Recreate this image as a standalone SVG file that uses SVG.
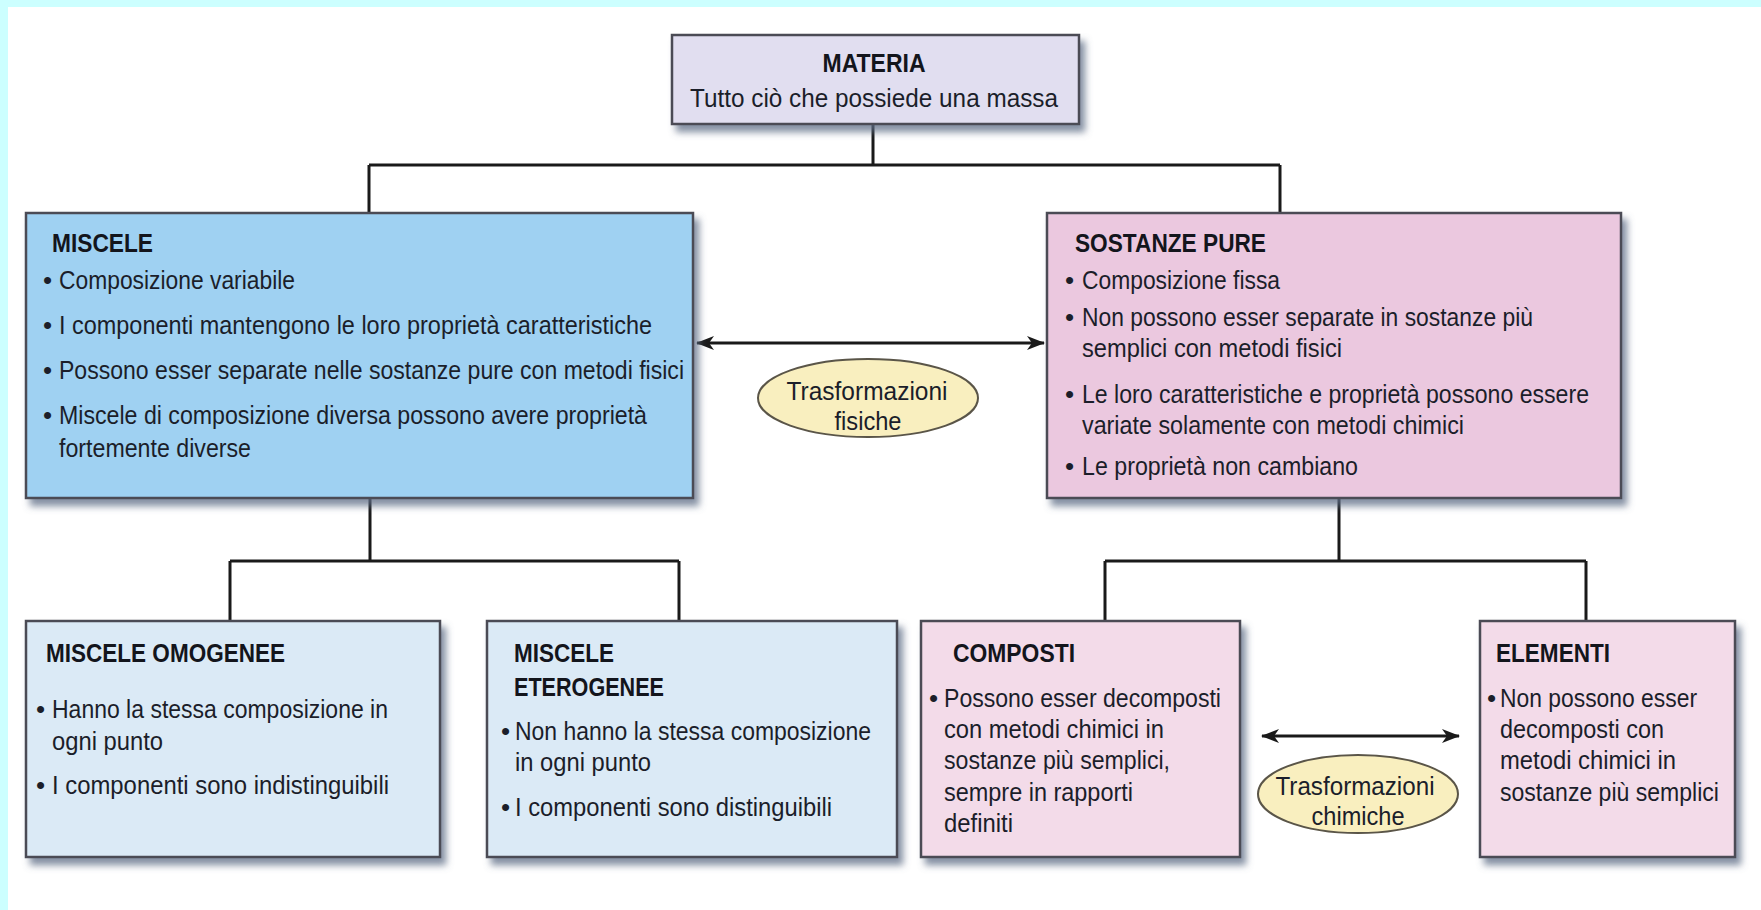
<svg xmlns="http://www.w3.org/2000/svg" width="1761" height="910" viewBox="0 0 1761 910">
<defs>
<style>
.t{font-family:"Liberation Sans",Arial,sans-serif;font-size:26px;fill:#1b1e2a}
.h{font-family:"Liberation Sans",Arial,sans-serif;font-size:26px;font-weight:bold;fill:#13151c}
.m{text-anchor:middle}
.box{stroke:#4b4b55;stroke-width:2.5}
.ln{stroke:#1a1a1a;stroke-width:3;fill:none}
.blue{fill:#9fd1f2}
.pink{fill:#ebc8df}
.lblue{fill:#dbeaf6}
.lpink{fill:#f3dbe9}
.lav{fill:#e1def0}
.ell{fill:#f9efbf;stroke:#5a5548;stroke-width:2}
</style>
<filter id="sh" x="-10%" y="-10%" width="130%" height="140%">
<feGaussianBlur in="SourceAlpha" stdDeviation="3.5"/>
<feOffset dx="5" dy="7" result="o"/>
<feFlood flood-color="#5d6c85" flood-opacity="0.75"/>
<feComposite in2="o" operator="in"/>
<feMerge><feMergeNode/><feMergeNode in="SourceGraphic"/></feMerge>
</filter>
<marker id="ah" viewBox="0 0 18 16" refX="17" refY="8" markerWidth="18" markerHeight="16" markerUnits="userSpaceOnUse" orient="auto-start-reverse">
<path d="M0,1 L18,8 L0,15 L5,8 Z" fill="#1a1a1a"/>
</marker>
</defs>
<rect x="0" y="0" width="1761" height="910" fill="#ffffff"/>
<rect x="0" y="0" width="1761" height="7" fill="#ccffff"/>
<rect x="0" y="0" width="8" height="910" fill="#ccffff"/>

<g id="connectors">
<path class="ln" d="M873,124 V165 M369,165 H1280 M369,165 V213 M1280,165 V213"/>
<path class="ln" d="M370,498 V561 M230,561 H679 M230,561 V621 M679,561 V621"/>
<path class="ln" d="M1339,498 V561 M1105,561 H1586 M1105,561 V621 M1586,561 V621"/>
<line class="ln" x1="697" y1="343" x2="1044" y2="343" marker-start="url(#ah)" marker-end="url(#ah)"/>
<line class="ln" x1="1262" y1="736" x2="1459" y2="736" marker-start="url(#ah)" marker-end="url(#ah)"/>
</g>

<g id="materia">
<rect class="box lav" x="672" y="35" width="407" height="89" filter="url(#sh)"/>
<text class="h m" x="874" y="72" font-size="27" textLength="103" lengthAdjust="spacingAndGlyphs">MATERIA</text>
<text class="t m" x="874" y="107" font-size="27" textLength="368" lengthAdjust="spacingAndGlyphs">Tutto ciò che possiede una massa</text>
</g>

<g id="miscele">
<rect class="box blue" x="26" y="213" width="667" height="285" filter="url(#sh)"/>
<text class="h" x="52" y="252" textLength="101" lengthAdjust="spacingAndGlyphs">MISCELE</text>
<text class="t" x="43" y="289">•</text>
<text class="t" x="59" y="289" textLength="236" lengthAdjust="spacingAndGlyphs">Composizione variabile</text>
<text class="t" x="43" y="334">•</text>
<text class="t" x="59" y="334" textLength="593" lengthAdjust="spacingAndGlyphs">I componenti mantengono le loro proprietà caratteristiche</text>
<text class="t" x="43" y="379">•</text>
<text class="t" x="59" y="379" textLength="625" lengthAdjust="spacingAndGlyphs">Possono esser separate nelle sostanze pure con metodi fisici</text>
<text class="t" x="43" y="424">•</text>
<text class="t" x="59" y="424" textLength="588" lengthAdjust="spacingAndGlyphs">Miscele di composizione diversa possono avere proprietà</text>
<text class="t" x="59" y="457" textLength="192" lengthAdjust="spacingAndGlyphs">fortemente diverse</text>
</g>

<g id="sostanze-pure">
<rect class="box pink" x="1047" y="213" width="574" height="285" filter="url(#sh)"/>
<text class="h" x="1075" y="252" textLength="191" lengthAdjust="spacingAndGlyphs">SOSTANZE PURE</text>
<text class="t" x="1065" y="289">•</text>
<text class="t" x="1082" y="289" textLength="198" lengthAdjust="spacingAndGlyphs">Composizione fissa</text>
<text class="t" x="1065" y="326">•</text>
<text class="t" x="1082" y="326" textLength="451" lengthAdjust="spacingAndGlyphs">Non possono esser separate in sostanze più</text>
<text class="t" x="1082" y="357" textLength="260" lengthAdjust="spacingAndGlyphs">semplici con metodi fisici</text>
<text class="t" x="1065" y="403">•</text>
<text class="t" x="1082" y="403" textLength="507" lengthAdjust="spacingAndGlyphs">Le loro caratteristiche e proprietà possono essere</text>
<text class="t" x="1082" y="434" textLength="382" lengthAdjust="spacingAndGlyphs">variate solamente con metodi chimici</text>
<text class="t" x="1065" y="475">•</text>
<text class="t" x="1082" y="475" textLength="276" lengthAdjust="spacingAndGlyphs">Le proprietà non cambiano</text>
</g>

<g id="trasformazioni-fisiche">
<ellipse class="ell" cx="868" cy="398" rx="110" ry="39"/>
<text class="t m" x="867" y="400" textLength="161" lengthAdjust="spacingAndGlyphs">Trasformazioni</text>
<text class="t m" x="868" y="430" textLength="67" lengthAdjust="spacingAndGlyphs">fisiche</text>
</g>

<g id="miscele-omogenee">
<rect class="box lblue" x="26" y="621" width="414" height="236" filter="url(#sh)"/>
<text class="h" x="46" y="662" textLength="239" lengthAdjust="spacingAndGlyphs">MISCELE OMOGENEE</text>
<text class="t" x="36" y="718">•</text>
<text class="t" x="52" y="718" textLength="336" lengthAdjust="spacingAndGlyphs">Hanno la stessa composizione in</text>
<text class="t" x="52" y="750" textLength="111" lengthAdjust="spacingAndGlyphs">ogni punto</text>
<text class="t" x="36" y="794">•</text>
<text class="t" x="52" y="794" textLength="337" lengthAdjust="spacingAndGlyphs">I componenti sono indistinguibili</text>
</g>

<g id="miscele-eterogenee">
<rect class="box lblue" x="487" y="621" width="410" height="236" filter="url(#sh)"/>
<text class="h" x="514" y="662" textLength="100" lengthAdjust="spacingAndGlyphs">MISCELE</text>
<text class="h" x="514" y="696" textLength="150" lengthAdjust="spacingAndGlyphs">ETEROGENEE</text>
<text class="t" x="501" y="740">•</text>
<text class="t" x="515" y="740" textLength="356" lengthAdjust="spacingAndGlyphs">Non hanno la stessa composizione</text>
<text class="t" x="515" y="771" textLength="136" lengthAdjust="spacingAndGlyphs">in ogni punto</text>
<text class="t" x="501" y="816">•</text>
<text class="t" x="515" y="816" textLength="317" lengthAdjust="spacingAndGlyphs">I componenti sono distinguibili</text>
</g>

<g id="composti">
<rect class="box lpink" x="921" y="621" width="319" height="236" filter="url(#sh)"/>
<text class="h" x="953" y="662" textLength="122" lengthAdjust="spacingAndGlyphs">COMPOSTI</text>
<text class="t" x="929" y="707">•</text>
<text class="t" x="944" y="707" textLength="277" lengthAdjust="spacingAndGlyphs">Possono esser decomposti</text>
<text class="t" x="944" y="738" textLength="220" lengthAdjust="spacingAndGlyphs">con metodi chimici in</text>
<text class="t" x="944" y="769" textLength="226" lengthAdjust="spacingAndGlyphs">sostanze più semplici,</text>
<text class="t" x="944" y="801" textLength="189" lengthAdjust="spacingAndGlyphs">sempre in rapporti</text>
<text class="t" x="944" y="832" textLength="69" lengthAdjust="spacingAndGlyphs">definiti</text>
</g>

<g id="trasformazioni-chimiche">
<ellipse class="ell" cx="1358" cy="794" rx="100" ry="39"/>
<text class="t m" x="1355" y="795" textLength="159" lengthAdjust="spacingAndGlyphs">Trasformazioni</text>
<text class="t m" x="1358" y="825" textLength="93" lengthAdjust="spacingAndGlyphs">chimiche</text>
</g>

<g id="elementi">
<rect class="box lpink" x="1480" y="621" width="255" height="236" filter="url(#sh)"/>
<text class="h" x="1496" y="662" textLength="114" lengthAdjust="spacingAndGlyphs">ELEMENTI</text>
<text class="t" x="1487" y="707">•</text>
<text class="t" x="1500" y="707" textLength="197" lengthAdjust="spacingAndGlyphs">Non possono esser</text>
<text class="t" x="1500" y="738" textLength="164" lengthAdjust="spacingAndGlyphs">decomposti con</text>
<text class="t" x="1500" y="769" textLength="176" lengthAdjust="spacingAndGlyphs">metodi chimici in</text>
<text class="t" x="1500" y="801" textLength="219" lengthAdjust="spacingAndGlyphs">sostanze più semplici</text>
</g>
</svg>
